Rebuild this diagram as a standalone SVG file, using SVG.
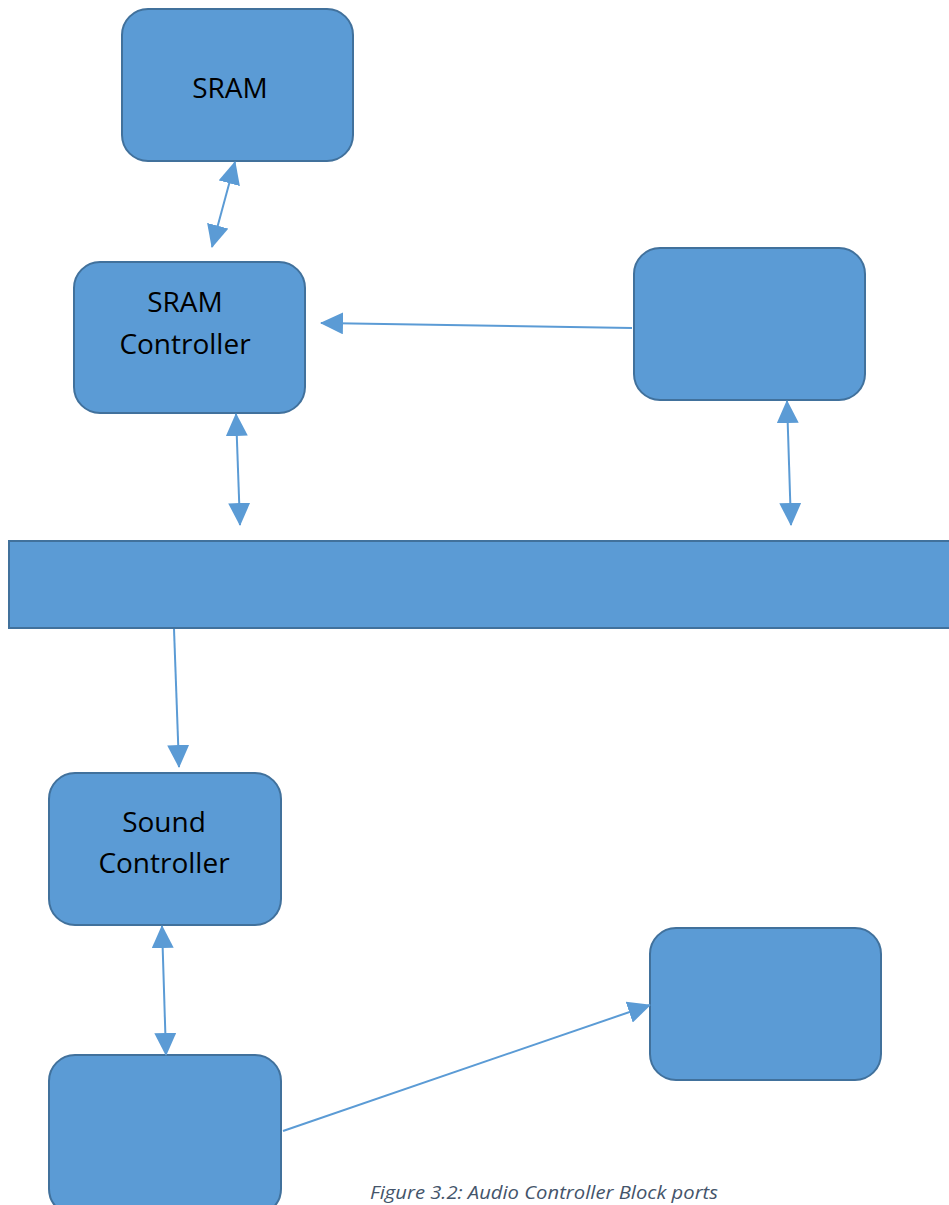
<svg xmlns="http://www.w3.org/2000/svg" width="949" height="1205" viewBox="0 0 949 1205">
  <style>
    .block { fill: #5b9bd5; stroke: #41719c; stroke-width: 2; }
    .label { font-family: "Open Sans", "Liberation Sans", sans-serif; font-size: 28px; fill: #000; text-anchor: middle; }
    .link { stroke: #5b9bd5; stroke-width: 2; fill: none; }
    .one { marker-end: url(#head); }
    .two { marker-start: url(#head); marker-end: url(#head); }
    .caption { font-family: "Open Sans", "Liberation Sans", sans-serif; font-style: italic; font-size: 18px; fill: #44546a; }
  </style>
  <defs>
    <marker id="head" markerUnits="userSpaceOnUse" markerWidth="24" markerHeight="22" refX="22" refY="11" orient="auto-start-reverse">
      <path d="M0,0 L23,11 L0,22 Z" fill="#5b9bd5"/>
    </marker>
  </defs>
  <rect width="949" height="1205" fill="#fff"/>

  <g id="sram">
    <rect class="block" x="122" y="9" width="231" height="152" rx="26"/>
    <text class="label" x="230" y="98">SRAM</text>
  </g>
  <g id="sram-controller">
    <rect class="block" x="74" y="262" width="231" height="151" rx="26"/>
    <text class="label" x="185" y="312">SRAM</text>
    <text class="label" x="185" y="354">Controller</text>
  </g>
  <g id="block-right-top">
    <rect class="block" x="634" y="248" width="231" height="152" rx="26"/>
  </g>
  <g id="bus">
    <rect class="block" x="9" y="541" width="950" height="87"/>
  </g>
  <g id="sound-controller">
    <rect class="block" x="49" y="773" width="232" height="152" rx="26"/>
    <text class="label" x="164" y="832">Sound</text>
    <text class="label" x="164" y="873">Controller</text>
  </g>
  <g id="block-bottom-left">
    <rect class="block" x="49" y="1055" width="232" height="160" rx="26"/>
  </g>
  <g id="block-bottom-right">
    <rect class="block" x="650" y="928" width="231" height="152" rx="26"/>
  </g>

  <g id="connectors">
    <line class="link two" x1="235" y1="162" x2="212" y2="247"/>
    <line class="link one" x1="632" y1="328" x2="321" y2="323"/>
    <line class="link two" x1="236" y1="414" x2="240" y2="525"/>
    <line class="link two" x1="787" y1="401" x2="791" y2="525"/>
    <line class="link one" x1="174" y1="629" x2="179" y2="767"/>
    <line class="link two" x1="162" y1="926" x2="166" y2="1055"/>
    <line class="link one" x1="283" y1="1131" x2="650" y2="1005"/>
  </g>

  <text class="caption" x="370" y="1199" textLength="348" lengthAdjust="spacingAndGlyphs">Figure 3.2: Audio Controller Block ports</text>
</svg>
